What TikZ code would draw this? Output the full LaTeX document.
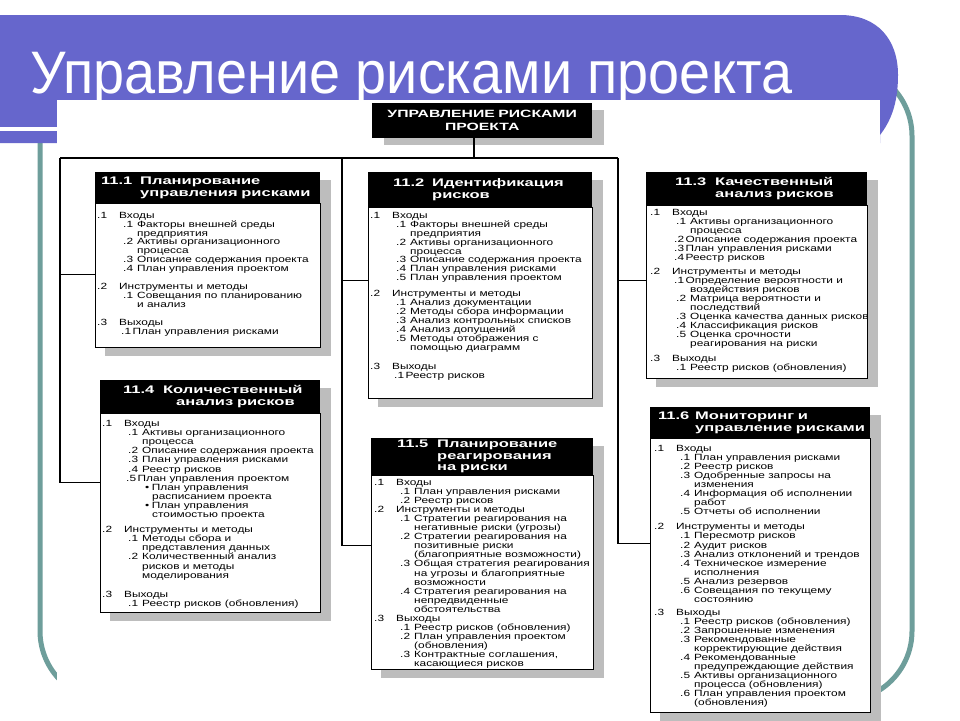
\documentclass[tikz,border=0pt]{standalone}
\usepackage{fontspec}
\setmainfont{Liberation Sans}
\newfontfamily\titlefont[FakeStretch=0.93]{Liberation Sans}
\newfontfamily\hdrfont[FakeStretch=1.5]{Liberation Sans}
\newfontfamily\bodyfont[FakeStretch=1.32]{Liberation Sans}
\definecolor{bandpurple}{HTML}{6666CC}
\definecolor{frameteal}{HTML}{6E9E9B}
\definecolor{shadowgrey}{HTML}{BDBDBD}
\newcommand\Ma[2]{\makebox[22pt][l]{#1}#2}
\newcommand\Sb[2]{\hspace*{26pt}\makebox[14pt][l]{#1}#2}
\newcommand\Sc[2]{\hspace*{24pt}#1\hspace{1.5pt}#2}
\newcommand\Ct[1]{\hspace*{40pt}#1}
\newcommand\Bu[1]{\hspace*{43pt}\textbullet\hspace{2.5pt}#1}
\pgfdeclarelayer{back}
\pgfdeclarelayer{shade}
\pgfsetlayers{back,shade,main}
\begin{document}
\begin{tikzpicture}[x=1pt,y=-1pt,
  hdr/.style={fill=black,text=white,anchor=north west,inner sep=0pt,align=left,
    font=\hdrfont\bfseries\fontsize{11}{12.5}\selectfont},
  bodybox/.style={draw=black,line width=0.9pt,fill=white,anchor=north west,inner sep=0pt},
  bodytext/.style={anchor=north west,inner sep=0pt,align=left,
    font=\bodyfont\fontsize{9}{#1}\selectfont},
  link/.style={draw=black,line width=1.1pt},
  shadefill/.style={fill=shadowgrey}
]
\useasboundingbox (0,0) rectangle (960,720);

\begin{pgfonlayer}{back}
  \fill[white] (0,0) rectangle (960,720);
  \draw[frameteal,line width=5pt,rounded corners=70pt] (40,66) rectangle (912,701);
  \fill[bandpurple] (0,15) -- (840,15) .. controls (878,15) and (898,40) .. (898,75)
     .. controls (898,105) and (890,122) .. (880,135) -- (880,143) -- (0,143) -- cycle;
  \fill[white] (0,127) rectangle (57,131);
  \node[anchor=base west,inner sep=0pt,text=white,font=\titlefont\fontsize{60}{60}\selectfont]
     (title) at (30,93) {Управление рисками проекта};
  \fill[white] (57,100) rectangle (880,720);
\end{pgfonlayer}

% top box
\node[hdr,text width=220pt,minimum height=35pt,align=center,
  font=\hdrfont\bfseries\fontsize{10.5}{13}\selectfont] (top) at (372,103) {УПРАВЛЕНИЕ РИСКАМИ\\ПРОЕКТА};

% box 11.1
\node[hdr,text width=225pt,minimum height=31pt] (h1) at (95,172)
  {\hspace*{6pt}\makebox[39pt][l]{11.1}Планирование\\\hspace*{45pt}управления рисками};
\node[bodybox,minimum width=225pt,minimum height=144pt] (b1) at (h1.south west) {};
\node[bodytext=8.8] (t1) at ([xshift=2pt,yshift=-8.7pt]b1.north west) {%
\Ma{.1}{Входы}\\
\Sb{.1}{Факторы внешней среды}\\
\Ct{предприятия}\\
\Sb{.2}{Активы организационного}\\
\Ct{процесса}\\
\Sb{.3}{Описание содержания проекта}\\
\Sb{.4}{План управления проектом}\\[9.6pt]
\Ma{.2}{Инструменты и методы}\\
\Sb{.1}{Совещания по планированию}\\
\Ct{и анализ}\\[9.6pt]
\Ma{.3}{Выходы}\\
\Sc{.1}{План управления рисками}};

% box 11.2
\node[hdr,text width=224pt,minimum height=35pt] (h2) at (368,172)
  {\hspace*{25pt}\makebox[39pt][l]{11.2}Идентификация\\\hspace*{64pt}рисков};
\node[bodybox,minimum width=224pt,minimum height=191pt] (b2) at (h2.south west) {};
\node[bodytext=8.9] (t2) at ([xshift=2pt,yshift=-4.7pt]b2.north west) {%
\Ma{.1}{Входы}\\
\Sb{.1}{Факторы внешней среды}\\
\Ct{предприятия}\\
\Sb{.2}{Активы организационного}\\
\Ct{процесса}\\
\Sb{.3}{Описание содержания проекта}\\
\Sb{.4}{План управления рисками}\\
\Sb{.5}{План управления проектом}\\[7pt]
\Ma{.2}{Инструменты и методы}\\
\Sb{.1}{Анализ документации}\\
\Sb{.2}{Методы сбора информации}\\
\Sb{.3}{Анализ контрольных списков}\\
\Sb{.4}{Анализ допущений}\\
\Sb{.5}{Методы отображения с}\\
\Ct{помощью диаграмм}\\[11pt]
\Ma{.3}{Выходы}\\
\Sc{.1}{Реестр рисков}};

% box 11.3
\node[hdr,text width=221pt,minimum height=33pt] (h3) at (646,172)
  {\hspace*{29pt}\makebox[40pt][l]{11.3}Качественный\\\hspace*{69pt}анализ рисков};
\node[bodybox,minimum width=221pt,minimum height=173pt] (b3) at (h3.south west) {};
\node[bodytext=9.0] (t3) at ([xshift=4pt,yshift=-3.7pt]b3.north west) {%
\Ma{.1}{Входы}\\
\Sb{.1}{Активы организационного}\\
\Ct{процесса}\\
\Sc{.2}{Описание содержания проекта}\\
\Sc{.3}{План управления рисками}\\
\Sc{.4}{Реестр рисков}\\[5pt]
\Ma{.2}{Инструменты и методы}\\
\Sc{.1}{Определение вероятности и}\\
\Ct{воздействия рисков}\\
\Sb{.2}{Матрица вероятности и}\\
\Ct{последствий}\\
\Sb{.3}{Оценка качества данных рисков}\\
\Sb{.4}{Классификация рисков}\\
\Sb{.5}{Оценка срочности}\\
\Ct{реагирования на риски}\\[6pt]
\Ma{.3}{Выходы}\\
\Sb{.1}{Реестр рисков (обновления)}};

% box 11.4
\node[hdr,text width=220pt,minimum height=33pt] (h4) at (100,380)
  {\hspace*{23pt}\makebox[40pt][l]{11.4}Количественный\\\hspace*{76pt}анализ рисков};
\node[bodybox,minimum width=220pt,minimum height=199pt] (b4) at (h4.south west) {};
\node[bodytext=9.1] (t4) at ([xshift=2pt,yshift=-6.7pt]b4.north west) {%
\Ma{.1}{Входы}\\
\Sb{.1}{Активы организационного}\\
\Ct{процесса}\\
\Sb{.2}{Описание содержания проекта}\\
\Sb{.3}{План управления рисками}\\
\Sb{.4}{Реестр рисков}\\
\Sc{.5}{План управления проектом}\\
\Bu{План управления}\\
\hspace*{50pt}расписанием проекта\\
\Bu{План управления}\\
\hspace*{50pt}стоимостью проекта\\[6pt]
\Ma{.2}{Инструменты и методы}\\
\Sb{.1}{Методы сбора и}\\
\Ct{представления данных}\\
\Sb{.2}{Количественный анализ}\\
\Ct{рисков и методы}\\
\Ct{моделирования}\\[10pt]
\Ma{.3}{Выходы}\\
\Sb{.1}{Реестр рисков (обновления)}};

% box 11.5
\node[hdr,text width=222pt,minimum height=37pt,
  font=\hdrfont\bfseries\fontsize{11}{11.5}\selectfont] (h5) at (371,438)
  {\hspace*{26pt}\makebox[40pt][l]{11.5}Планирование\\\hspace*{66pt}реагирования\\\hspace*{66pt}на риски};
\node[bodybox,minimum width=222pt,minimum height=194pt] (b5) at (h5.south west) {};
\node[bodytext=9.05] (t5) at ([xshift=3pt,yshift=-3.7pt]b5.north west) {%
\Ma{.1}{Входы}\\
\Sb{.1}{План управления рисками}\\
\Sb{.2}{Реестр рисков}\\
\Ma{.2}{Инструменты и методы}\\
\Sb{.1}{Стратегии реагирования на}\\
\Ct{негативные риски (угрозы)}\\
\Sb{.2}{Стратегии реагирования на}\\
\Ct{позитивные риски}\\
\Ct{(благоприятные возможности)}\\
\Sb{.3}{Общая стратегия реагирования}\\
\Ct{на угрозы и благоприятные}\\
\Ct{возможности}\\
\Sb{.4}{Стратегия реагирования на}\\
\Ct{непредвиденные}\\
\Ct{обстоятельства}\\
\Ma{.3}{Выходы}\\
\Sb{.1}{Реестр рисков (обновления)}\\
\Sb{.2}{План управления проектом}\\
\Ct{(обновления)}\\
\Sb{.3}{Контрактные соглашения,}\\
\Ct{касающиеся рисков}};

% box 11.6
\node[hdr,text width=220pt,minimum height=31pt] (h6) at (650,407)
  {\hspace*{8pt}\makebox[37pt][l]{11.6}Мониторинг и\\\hspace*{45pt}управление рисками};
\node[bodybox,minimum width=220pt,minimum height=274pt] (b6) at (h6.south west) {};
\node[bodytext=9.05] (t6) at ([xshift=4pt,yshift=-6.7pt]b6.north west) {%
\Ma{.1}{Входы}\\
\Sb{.1}{План управления рисками}\\
\Sb{.2}{Реестр рисков}\\
\Sb{.3}{Одобренные запросы на}\\
\Ct{изменения}\\
\Sb{.4}{Информация об исполнении}\\
\Ct{работ}\\
\Sb{.5}{Отчеты об исполнении}\\[6pt]
\Ma{.2}{Инструменты и методы}\\
\Sb{.1}{Пересмотр рисков}\\
\Sb{.2}{Аудит рисков}\\
\Sb{.3}{Анализ отклонений и трендов}\\
\Sb{.4}{Техническое измерение}\\
\Ct{исполнения}\\
\Sb{.5}{Анализ резервов}\\
\Sb{.6}{Совещания по текущему}\\
\Ct{состоянию}\\[4pt]
\Ma{.3}{Выходы}\\
\Sb{.1}{Реестр рисков (обновления)}\\
\Sb{.2}{Запрошенные изменения}\\
\Sb{.3}{Рекомендованные}\\
\Ct{корректирующие действия}\\
\Sb{.4}{Рекомендованные}\\
\Ct{предупреждающие действия}\\
\Sb{.5}{Активы организационного}\\
\Ct{процесса (обновления)}\\
\Sb{.6}{План управления проектом}\\
\Ct{(обновления)}};

% shadows
\begin{pgfonlayer}{shade}
  \fill[shadefill] ([xshift=12pt,yshift=-7pt]top.north west) rectangle ([xshift=12pt,yshift=-7pt]top.south east);
  \foreach \i in {1,...,6} {
    \fill[shadefill] ([xshift=10pt,yshift=-8pt]h\i.north west) rectangle ([xshift=10pt,yshift=-8pt]b\i.south east);
  }
\end{pgfonlayer}

% connectors
\coordinate (busL) at (60,158);
\coordinate (busM) at (342,158);
\coordinate (busR) at (618,158);
\coordinate (tj) at (474,158);
\coordinate (c1) at ([yshift=-71pt]b1.north west);
\coordinate (c2) at ([yshift=-73pt]b2.north west);
\coordinate (c3) at ([yshift=-75pt]b3.north west);
\coordinate (c4) at ([yshift=-69pt]b4.north west);
\coordinate (c5) at ([yshift=-70pt]b5.north west);
\coordinate (c6) at ([yshift=-105pt]b6.north west);
\draw[link] (tj |- top.south) -- (tj);
\draw[link] (busL) -- (busR);
\draw[link] (busL) |- (c4);
\draw[link] (busL |- c1) -- (c1);
\draw[link] (busM) |- (c5);
\draw[link] (busM |- c2) -- (c2);
\draw[link] (busR) |- (c6);
\draw[link] (busR |- c3) -- (c3);
\end{tikzpicture}
\end{document}
